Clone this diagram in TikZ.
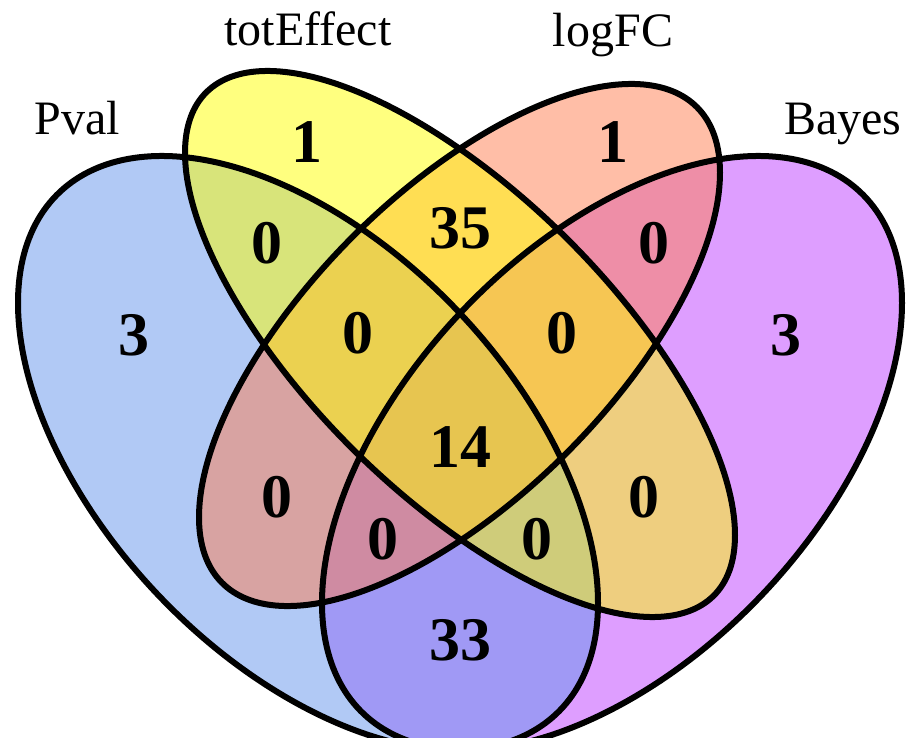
\documentclass[tikz,border=0pt]{standalone}
\usepackage{fontspec}
\setmainfont{Liberation Serif}
\definecolor{cPval}{RGB}{100,149,237}
\definecolor{cTot}{RGB}{255,255,0}
\definecolor{cLog}{RGB}{255,127,80}
\definecolor{cBay}{RGB}{191,62,255}
\begin{document}
\begin{tikzpicture}[x=1pt,y=-1pt,
  setfill/.style={fill opacity=0.5},
  outline/.style={draw=black, line width=6pt},
  count/.style={font=\fontsize{62}{62}\selectfont\bfseries, inner sep=0pt, anchor=center},
  setname/.style={font=\fontsize{48}{48}\selectfont, inner sep=0pt, anchor=base},
  ePval/.style={cm={290,-150.0,0,256.3,(308,453)}},
  eBay/.style={cm={290,150.0,0,256.3,(612,453)}},
  eTot/.style={cm={275,-191.1,0,195.0,(460,344)}},
  eLog/.style={cm={260.5,172.3,0,196.1,(459.5,345)}}]
\useasboundingbox (0,0) rectangle (914,738);
\fill[white] (0,0) rectangle (914,738);
% fills
\fill[cBay, setfill, eBay] (0,0) circle[radius=1pt];
\fill[cPval, setfill, ePval] (0,0) circle[radius=1pt];
\fill[cLog, setfill, eLog] (0,0) circle[radius=1pt];
\fill[cTot, setfill, eTot] (0,0) circle[radius=1pt];
% outlines
\draw[outline, eBay] (0,0) circle[radius=1pt];
\draw[outline, ePval] (0,0) circle[radius=1pt];
\draw[outline, eLog] (0,0) circle[radius=1pt];
\draw[outline, eTot] (0,0) circle[radius=1pt];
% set names
\node[setname] (lPval) at (77,135) {Pval};
\node[setname] (lTot) at (308,46) {totEffect};
\node[setname] (lLog) at (613,47) {logFC};
\node[setname] (lBay) at (843,135) {Bayes};
% counts
\node[count] (nT) at (307,142) {1};
\node[count] (nL) at (613,142) {1};
\node[count] (nP) at (134,335) {3};
\node[count] (nB) at (786,335) {3};
\node[count] (nPT) at (267,243) {0};
\node[count] (nLB) at (654,243) {0};
\node[count] (nTL) at (460,228) {35};
\node[count] (nPTL) at (358,333) {0};
\node[count] (nTLB) at (562,333) {0};
\node[count] (nAll) at (460,447) {14};
\node[count] (nPL) at (277,497) {0};
\node[count] (nTB) at (644,497) {0};
\node[count] (nPLB) at (383,539) {0};
\node[count] (nPTB) at (537,539) {0};
\node[count] (nPB) at (460,640) {33};
\end{tikzpicture}
\end{document}
